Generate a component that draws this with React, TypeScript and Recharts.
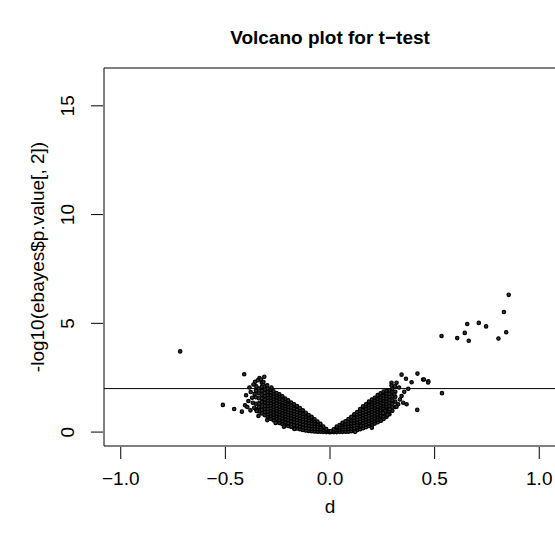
import { ScatterChart, Scatter, XAxis, YAxis, ReferenceLine, ReferenceArea } from "recharts";

const font = "'Liberation Sans', Arial, Helvetica, sans-serif";

const xTicks = [-1, -0.5, 0, 0.5, 1];
const xTickLabels = ["\u22121.0", "\u22120.5", "0.0", "0.5", "1.0"];
const yTicks = [0, 5, 10, 15];
const yTickLabels = ["0", "5", "10", "15"];
const cutoff = 2;

// dense part of the volcano, read column by column (d, then -log10 p values)
const leftArm: [number, number[]][] = [
  [-0.004, [0.0, 0.04]],
  [-0.018, [0.0, 0.07, 0.14]],
  [-0.032, [0.01, 0.1, 0.19, 0.26]],
  [-0.046, [0.02, 0.12, 0.23, 0.34, 0.38]],
  [-0.06, [0.02, 0.13, 0.25, 0.37, 0.48]],
  [-0.074, [0.03, 0.15, 0.27, 0.39, 0.5, 0.59]],
  [-0.088, [0.04, 0.16, 0.28, 0.4, 0.52, 0.63, 0.7]],
  [-0.102, [0.05, 0.17, 0.3, 0.42, 0.54, 0.66, 0.78]],
  [-0.116, [0.07, 0.19, 0.32, 0.45, 0.57, 0.69, 0.81, 0.89]],
  [-0.13, [0.1, 0.22, 0.35, 0.48, 0.6, 0.72, 0.84, 0.96, 1.0]],
  [-0.144, [0.13, 0.26, 0.39, 0.52, 0.64, 0.76, 0.88, 1.0, 1.1]],
  [-0.158, [0.17, 0.3, 0.43, 0.56, 0.68, 0.8, 0.92, 1.04, 1.16, 1.2]],
  [-0.172, [0.2, 0.33, 0.46, 0.6, 0.72, 0.84, 0.96, 1.08, 1.2, 1.28]],
  [-0.186, [0.24, 0.37, 0.5, 0.64, 0.76, 0.88, 1.0, 1.12, 1.24, 1.36]],
  [-0.2, [0.28, 0.41, 0.55, 0.68, 0.8, 0.92, 1.04, 1.16, 1.28, 1.4, 1.46]],
  [-0.214, [0.32, 0.45, 0.59, 0.72, 0.84, 0.96, 1.08, 1.2, 1.32, 1.44, 1.54]],
  [-0.228, [0.37, 0.5, 0.63, 0.76, 0.88, 1.0, 1.12, 1.24, 1.36, 1.48, 1.6, 1.65]],
  [-0.242, [0.42, 0.55, 0.68, 0.81, 0.93, 1.05, 1.17, 1.29, 1.41, 1.53, 1.65, 1.74]],
  [-0.256, [0.48, 0.61, 0.74, 0.86, 0.98, 1.1, 1.22, 1.34, 1.46, 1.58, 1.7, 1.8]],
  [-0.27, [0.54, 0.67, 0.8, 0.92, 1.04, 1.16, 1.28, 1.4, 1.52, 1.64, 1.76, 1.88]],
  [-0.284, [0.61, 0.74, 0.86, 0.98, 1.1, 1.22, 1.34, 1.46, 1.58, 1.7, 1.82, 1.95]],
  [-0.298, [0.7, 0.82, 0.95, 1.07, 1.2, 1.33, 1.45, 1.58, 1.7, 1.84, 2.0]],
  [-0.312, [0.78, 0.92, 1.06, 1.2, 1.36, 1.5, 1.66, 1.8, 1.96, 2.1]],
  [-0.326, [0.86, 1.02, 1.18, 1.38, 1.55, 1.72, 1.9, 2.08]],
  [-0.34, [0.95, 1.15, 1.32, 1.55, 1.78, 2.0]],
  [-0.354, [1.05, 1.3, 1.6, 1.9]],
];

const rightArm: [number, number[]][] = [
  [0.004, [0.0, 0.04]],
  [0.018, [0.0, 0.07, 0.13]],
  [0.032, [0.0, 0.09, 0.18, 0.25]],
  [0.046, [0.01, 0.11, 0.21, 0.32]],
  [0.06, [0.01, 0.12, 0.23, 0.34, 0.43]],
  [0.074, [0.02, 0.13, 0.25, 0.37, 0.5]],
  [0.088, [0.02, 0.14, 0.26, 0.38, 0.5, 0.6]],
  [0.102, [0.04, 0.16, 0.28, 0.4, 0.52, 0.64, 0.7]],
  [0.116, [0.06, 0.18, 0.3, 0.42, 0.54, 0.66, 0.78, 0.82]],
  [0.13, [0.09, 0.21, 0.33, 0.45, 0.57, 0.69, 0.81, 0.92]],
  [0.144, [0.13, 0.25, 0.37, 0.49, 0.61, 0.73, 0.85, 0.97, 1.06]],
  [0.158, [0.18, 0.3, 0.42, 0.54, 0.66, 0.78, 0.9, 1.02, 1.14, 1.18]],
  [0.172, [0.23, 0.35, 0.47, 0.59, 0.71, 0.83, 0.95, 1.07, 1.19, 1.28]],
  [0.186, [0.28, 0.4, 0.52, 0.64, 0.76, 0.88, 1.0, 1.12, 1.24, 1.36, 1.4]],
  [0.2, [0.33, 0.45, 0.57, 0.69, 0.81, 0.93, 1.05, 1.17, 1.29, 1.41, 1.5]],
  [0.214, [0.39, 0.51, 0.63, 0.75, 0.87, 0.99, 1.11, 1.23, 1.35, 1.47, 1.58]],
  [0.228, [0.45, 0.57, 0.69, 0.81, 0.93, 1.05, 1.17, 1.29, 1.41, 1.53, 1.65, 1.7]],
  [0.242, [0.52, 0.64, 0.76, 0.88, 1.0, 1.12, 1.24, 1.36, 1.48, 1.6, 1.72, 1.78]],
  [0.256, [0.6, 0.72, 0.84, 0.96, 1.08, 1.2, 1.32, 1.44, 1.56, 1.68, 1.8, 1.86]],
  [0.27, [0.7, 0.82, 0.94, 1.06, 1.18, 1.3, 1.42, 1.54, 1.66, 1.78, 1.9]],
  [0.284, [0.82, 0.95, 1.08, 1.2, 1.34, 1.48, 1.62, 1.76, 1.92]],
  [0.298, [0.98, 1.12, 1.3, 1.46, 1.64, 1.84, 2.0]],
  [0.312, [1.15, 1.4, 1.62, 1.85]],
];

// loose points around the arms
const leftScatter: [number, number][] = [
  [-0.41, 2.66], [-0.337, 2.49], [-0.314, 2.54], [-0.358, 2.31], [-0.326, 2.27],
  [-0.366, 2.19], [-0.401, 1.69], [-0.379, 1.84], [-0.406, 1.23], [-0.458, 1.06],
  [-0.421, 0.94], [-0.39, 1.43], [-0.369, 1.35], [-0.35, 0.97], [-0.342, 0.74],
  [-0.512, 1.25], [-0.385, 2.05], [-0.372, 1.58], [-0.36, 1.75], [-0.395, 1.15],
  [-0.345, 2.38], [-0.33, 2.42], [-0.352, 2.1], [-0.38, 1.0], [-0.362, 1.12],
  [-0.318, 2.3], [-0.3, 0.55], [-0.26, 0.42], [-0.22, 0.25], [-0.17, 0.14],
  [-0.28, 2.05], [-0.3, 2.15], [-0.716, 3.71],
];

const rightScatter: [number, number][] = [
  [0.342, 2.64], [0.363, 2.45], [0.418, 2.69], [0.445, 2.42], [0.47, 2.34],
  [0.39, 2.29], [0.318, 2.27], [0.294, 2.27], [0.294, 2.14], [0.374, 1.99],
  [0.417, 1.02], [0.243, 0.53], [0.146, 0.29], [0.342, 1.66], [0.35, 1.35],
  [0.326, 1.28], [0.366, 1.28], [0.286, 1.05], [0.263, 0.97], [0.318, 1.17],
  [0.334, 1.5], [0.254, 0.87], [0.307, 1.73], [0.449, 2.42], [0.469, 2.28],
  [0.535, 1.79], [0.33, 2.05], [0.355, 1.85], [0.31, 2.1], [0.275, 0.8],
  [0.2, 0.2], [0.12, 0.01],
];

const topGenes: [number, number][] = [
  [0.854, 6.31], [0.831, 5.52], [0.656, 4.97], [0.711, 5.02], [0.746, 4.86],
  [0.644, 4.56], [0.842, 4.59], [0.533, 4.42], [0.608, 4.32], [0.663, 4.2],
  [0.805, 4.3],
];

const points = [
  ...[...leftArm, ...rightArm].flatMap(([d, ys]) => ys.map((y) => ({ d, y }))),
  ...[...leftScatter, ...rightScatter, ...topGenes].map(([d, y]) => ({ d, y })),
];

const XTick = (props: any) => {
  const { x, index } = props;
  return (
    <g>
      <line x1={x} x2={x} y1={447} y2={459} stroke="#000" strokeWidth={1} />
      <text x={x} y={485} textAnchor="middle" fontSize={19} fontFamily={font} fill="#000">
        {xTickLabels[index]}
      </text>
    </g>
  );
};

const YTick = (props: any) => {
  const { y, index } = props;
  return (
    <g>
      <line x1={91} x2={103} y1={y} y2={y} stroke="#000" strokeWidth={1} />
      <text
        x={74}
        y={y}
        transform={`rotate(-90 74 ${y})`}
        textAnchor="middle"
        fontSize={19}
        fontFamily={font}
        fill="#000"
      >
        {yTickLabels[index]}
      </text>
    </g>
  );
};

const Dot = (props: any) => (
  <circle cx={props.cx} cy={props.cy} r={1.7} fill="#333" stroke="#000" strokeWidth={1.2} />
);

export default function App() {
  return (
    <div style={{ position: "absolute", left: 0, top: 0, width: 555, height: 542, overflow: "hidden", background: "#fff" }}>
      <ScatterChart width={600} height={542} margin={{ top: 68, right: 44, left: 0, bottom: 0 }}>
        <XAxis
          type="number"
          dataKey="d"
          domain={[-1.08, 1.08]}
          ticks={xTicks}
          interval={0}
          height={96}
          axisLine={false}
          tickLine={false}
          tick={<XTick />}
          allowDataOverflow
        />
        <YAxis
          type="number"
          dataKey="y"
          domain={[-0.64, 16.74]}
          ticks={yTicks}
          interval={0}
          width={104}
          axisLine={false}
          tickLine={false}
          tick={<YTick />}
          allowDataOverflow
        />
        <ReferenceArea x1={-1.08} x2={1.08} y1={-0.64} y2={16.74} fill="none" stroke="#000" strokeWidth={1} fillOpacity={0} />
        <ReferenceLine y={cutoff} stroke="#000" strokeWidth={1} />
        <Scatter data={points} shape={<Dot />} isAnimationActive={false} />
      </ScatterChart>
      <svg width={555} height={542} style={{ position: "absolute", left: 0, top: 0, pointerEvents: "none" }}>
        <text x={330} y={44} textAnchor="middle" fontSize={19} fontWeight="bold" fontFamily={font} fill="#000">
          Volcano plot for t{"\u2212"}test
        </text>
        <text x={330} y={513} textAnchor="middle" fontSize={19} fontFamily={font} fill="#000">
          d
        </text>
        <text x={44} y={257} transform="rotate(-90 44 257)" textAnchor="middle" fontSize={19} fontFamily={font} fill="#000">
          -log10(ebayes$p.value[, 2])
        </text>
      </svg>
    </div>
  );
}
